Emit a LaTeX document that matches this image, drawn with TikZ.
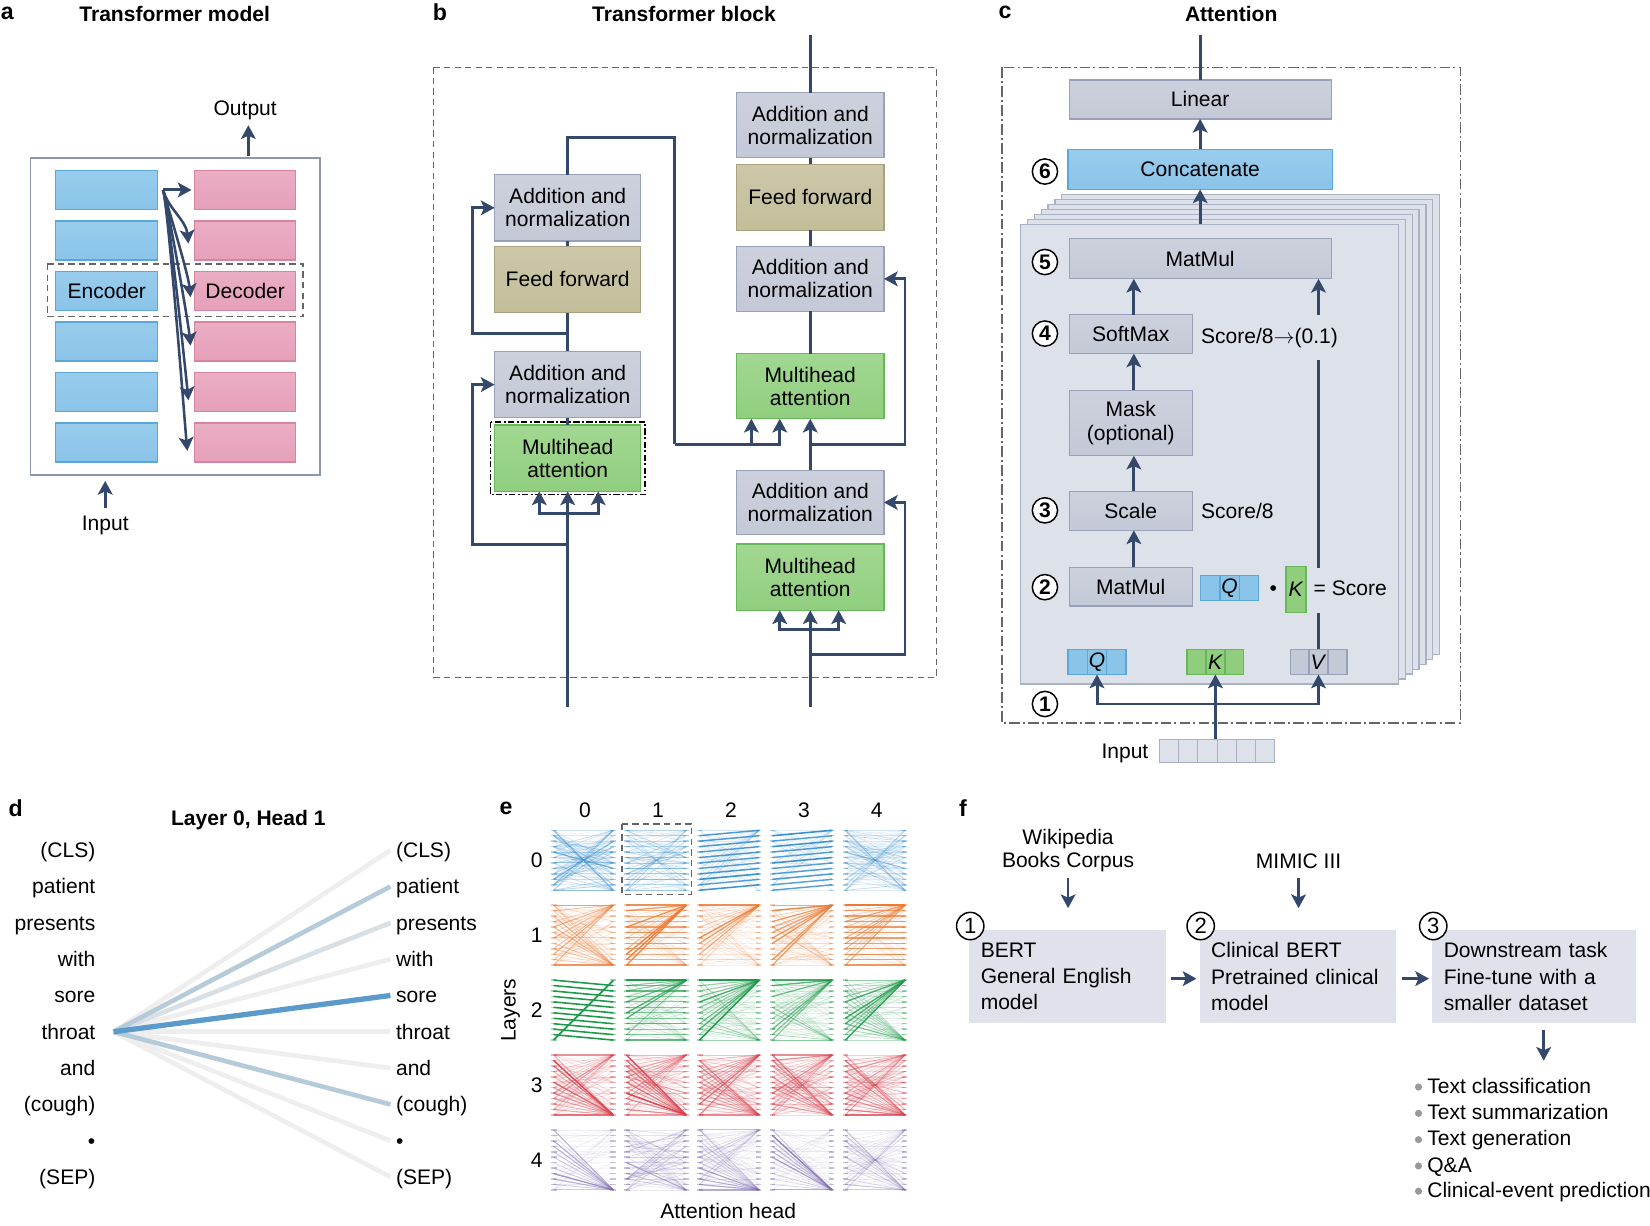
\documentclass[tikz,border=0pt]{standalone}
\usepackage{fontspec}
\setmainfont{Liberation Sans}
\usetikzlibrary{arrows.meta,calc}
\definecolor{navy}{HTML}{34486B}
\definecolor{gryF}{HTML}{C4C9D7}
\definecolor{gryT}{HTML}{CDD1DD}
\definecolor{gryB}{HTML}{98A1B8}
\definecolor{tanF}{HTML}{C3BE9A}
\definecolor{tanT}{HTML}{CCC8A8}
\definecolor{tanB}{HTML}{A8A27E}
\definecolor{grnF}{HTML}{90CE7E}
\definecolor{grnT}{HTML}{A2D892}
\definecolor{grnB}{HTML}{66B85A}
\definecolor{bluF}{HTML}{8BC4E9}
\definecolor{bluT}{HTML}{98CCEC}
\definecolor{bluB}{HTML}{5BA6DB}
\definecolor{pnkF}{HTML}{E6A0BA}
\definecolor{pnkT}{HTML}{EAAEC4}
\definecolor{pnkB}{HTML}{D9849F}
\definecolor{shtF}{HTML}{DDE1EA}
\definecolor{shtB}{HTML}{A9B1C5}
\definecolor{frmB}{HTML}{8C96AE}
\definecolor{dashC}{HTML}{666666}
\definecolor{fboxF}{HTML}{DFE2EA}
\definecolor{dfaint}{HTML}{EEEEEE}
\definecolor{dmid}{HTML}{B5CBD9}
\definecolor{dlite}{HTML}{D8E0E6}
\definecolor{dstrong}{HTML}{5B9BCB}
\definecolor{eL0}{HTML}{3A8FCF}
\definecolor{eL1}{HTML}{EC7A33}
\definecolor{eL2}{HTML}{1F9A4A}
\definecolor{eL3}{HTML}{D9434F}
\definecolor{eL4}{HTML}{7B67AE}
\newcommand\fs{\fontsize{10}{11}\selectfont}
\newcommand\bnode[7]{\node[#2, minimum width={(#5-#3)*0.5pt}, minimum height={(#6-#4)*0.5pt}] (#1) at ({(#3+#5)/2},{(#4+#6)/2}) {#7};}
\newcommand\qkv[8]{\bnode{#1}{bx, draw=#7, fill=#6}{#2}{#3}{#4}{#5}{\textit{#8}}
  \draw[#7, line width=0.6pt] ($(#1.south west)!1/3!(#1.south east)$) -- ($(#1.north west)!1/3!(#1.north east)$)
     ($(#1.south west)!2/3!(#1.south east)$) -- ($(#1.north west)!2/3!(#1.north east)$);}
% attention cell: col,row,color, mesh, top, bottom, diag, shift, anti
\newcommand\attcell[9]{%
 \begin{scope}[shift={({526+69.3*#1},{789+71.2*#2})}]
 \foreach \i in {0,...,11}{
   \draw[#3, opacity=0.4, line width=0.7pt] (-2,{\i*57/11}) -- (3,{\i*57/11}) (54,{\i*57/11}) -- (59,{\i*57/11});
   \foreach \j in {0,...,11}{
     \pgfmathsetmacro\op{min(1, 0.6*#4*rnd^4 + #5*(\j==0)*(0.15+0.75*rnd) + #6*(\j==11)*(0.15+0.75*rnd) + #7*(\j==\i+(#8)) + #9*(\j==11-\i)*(0.2+0.6*rnd))}
     \ifdim\op pt>0.05pt
       \draw[#3, opacity=\op, line width={0.25pt+0.5pt*\op}] (0,{\i*57/11}) -- (57,{\j*57/11});
     \fi
   }
 }
 \end{scope}}
\tikzset{
  bx/.style={line width=0.6pt, inner sep=0pt, outer sep=0pt, align=center, font=\fs},
  gbox/.style={bx, draw=gryB, fill=gryF, top color=gryT, bottom color=gryF},
  tbox/.style={bx, draw=tanB, fill=tanF, top color=tanT, bottom color=tanF},
  gnbox/.style={bx, draw=grnB, fill=grnF, top color=grnT, bottom color=grnF},
  bbox/.style={bx, draw=bluB, fill=bluF, top color=bluT, bottom color=bluF},
  pbox/.style={bx, draw=pnkB, fill=pnkF, top color=pnkT, bottom color=pnkF},
  ln/.style={draw=navy, line width=1.4pt},
  arr/.style={ln, -{Stealth[length=6.5pt,width=7pt,inset=1.5pt]}},
  ttl/.style={font=\fs\bfseries, inner sep=0pt},
  plet/.style={font=\fontsize{11}{12}\selectfont\bfseries, inner sep=0pt},
  txt/.style={font=\fs, inner sep=0pt, text height=7pt, text depth=0pt},
  num/.style={circle, draw=black, fill=white, line width=0.7pt, minimum size=12pt, inner sep=0pt, font=\fs\bfseries},
  fnum/.style={circle, draw=black, fill=white, line width=0.7pt, minimum size=13pt, inner sep=0pt, font=\fontsize{10.5}{11}\selectfont},
  fbox/.style={fill=fboxF, inner xsep=5.5pt, inner ysep=0pt, outer sep=0pt, align=left, text width=#1, font=\fontsize{10}{12.5}\selectfont},
  dsh/.style={dashC, line width=0.7pt, dash pattern=on 3pt off 2pt},
  dshdot/.style={dashC, line width=0.7pt, dash pattern=on 5pt off 1.5pt on 1pt off 1.5pt},
}
\begin{document}
\begin{tikzpicture}[x=0.5pt,y=-0.5pt]
\useasboundingbox (0,0) rectangle (1568,1165);
\fill[white] (0,0) rectangle (1568,1165);
\pgfmathsetseed{4242}
% ================= panel a =================
\node[plet] at (7,13) {a};
\node[ttl] at (166,13) {Transformer model};
\bnode{aframe}{draw=frmB, fill=white, line width=0.9pt, outer sep=0pt}{29}{150}{304}{451}{}
\foreach \k/\t in {1/162,2/210,3/258,4/306,5/354,6/402}{
  \bnode{enc\k}{bbox}{53}{\t}{150}{\t+37}{}
  \bnode{dec\k}{pbox}{185}{\t}{281}{\t+37}{}
}
\node[txt] at (enc3) {Encoder};
\node[txt] at (dec3) {Decoder};
\draw[dsh] (45,251) rectangle (288,301);
\coordinate (afan) at ($(enc1.east)+(5,0)$);
\draw[arr] (afan) -- ($(dec1.west)+(-3,0)$);
\foreach \k/\dx/\dy in {2/-6/3,3/-4/6,4/-4/4,5/-6/8,6/-7/8}{
  \draw[arr, line width=1.2pt] (afan) .. controls ($(afan)+(5,18)$) and ($(dec\k.west)+({\dx-2},{\dy-22})$) .. ($(dec\k.west)+(\dx,\dy)$);
}
\node[txt] (aout) at (233,103) {Output};
\coordinate (aoutb) at (236,148);
\coordinate (aoutt) at (236,119);
\draw[arr] (aoutb) -- (aoutt);
\node[txt] (ain) at (100,497) {Input};
\coordinate (ainb) at (100,483);
\coordinate (aint) at (100,457);
\draw[arr] (ainb) -- (aint);
% ================= panel b =================
\node[plet] at (418,12) {b};
\node[ttl] at (650,13) {Transformer block};
\draw[dsh] (412,64) rectangle (890,644);
\bnode{bL1}{gbox}{470}{166}{609}{229}{Addition and\\normalization}
\bnode{bL2}{tbox}{470}{234}{609}{297}{Feed forward}
\bnode{bL3}{gbox}{470}{334}{609}{397}{Addition and\\normalization}
\bnode{bL4}{gnbox}{470}{404}{609}{467}{Multihead\\attention}
\draw[black, line width=0.6pt, dash pattern=on 3pt off 1.2pt on 0.8pt off 1.2pt] (466,401) rectangle (613,470);
\bnode{bR1}{gbox}{700}{88}{840}{150}{Addition and\\normalization}
\bnode{bR2}{tbox}{700}{156}{840}{219}{Feed forward}
\bnode{bR3}{gbox}{700}{234}{840}{296}{Addition and\\normalization}
\bnode{bR4}{gnbox}{700}{336}{840}{398}{Multihead\\attention}
\bnode{bR5}{gbox}{700}{447}{840}{508}{Addition and\\normalization}
\bnode{bR6}{gnbox}{700}{517}{840}{580}{Multihead\\attention}
\draw[ln] (bL4.north) -- (bL3.south);
\draw[ln] (bL3.north) -- (bL2.south);
\draw[ln] (bL2.north) -- (bL1.south);
\coordinate (bLin) at (539.5,672);
\coordinate (bLbr) at (539.5,488);
\coordinate (bLres1) at (539.5,517);
\coordinate (bLres2) at (539.5,317);
\draw[arr] (bLin) -- (bL4.south);
\draw[arr] (bLbr) -| ($(bL4.south)+(-27,0)$);
\draw[arr] (bLbr) -| ($(bL4.south)+(29,0)$);
\draw[arr] (bLres1) -| ($(bL3.west)+(-21,0)$) -- (bL3.west);
\draw[arr] (bLres2) -| ($(bL1.west)+(-21,0)$) -- (bL1.west);
\coordinate (bTk) at (641,131);
\coordinate (bTj) at (641,422);
\draw[ln] (bL1.north) |- (bTk) -- (bTj);
\draw[arr] (bTj) -| ($(bR4.south)+(-56,0)$);
\draw[arr] (bTj) -| ($(bR4.south)+(-29,0)$);
\draw[arr] (bR5.north) -- (bR4.south);
\coordinate (bRres1) at ($(bR5.north)!0.5!(bR4.south)$);
\draw[arr] (bRres1) -| ($(bR3.east)+(20,0)$) -- (bR3.east);
\coordinate (bRin) at (770,672);
\coordinate (bRbr) at (770,598);
\coordinate (bRres2) at (770,622);
\draw[arr] (bRin) -- (bR6.south);
\draw[arr] (bRbr) -| ($(bR6.south)+(-29,0)$);
\draw[arr] (bRbr) -| ($(bR6.south)+(27,0)$);
\draw[arr] (bRres2) -| ($(bR5.east)+(20,0)$) -- (bR5.east);
\draw[ln] (bR4.north) -- (bR3.south);
\draw[ln] (bR3.north) -- (bR2.south);
\draw[ln] (bR2.north) -- (bR1.south);
\coordinate (bRout) at (770,33);
\draw[ln] (bR1.north) -- (bRout);
% ================= panel c =================
\node[plet] at (955,12) {c};
\node[ttl] at (1170,13) {Attention};
\draw[dshdot] (952,64) rectangle (1388,687);
\foreach \k in {6,5,...,1}{
  \draw[draw=shtB, fill=shtF, line width=0.6pt] ({970+6.5*\k},{213-4.7*\k}) rectangle ({1329+6.5*\k},{650-4.7*\k});
}
\bnode{sheet}{draw=shtB, fill=shtF, line width=0.6pt, outer sep=0pt}{970}{213}{1329}{650}{}
\bnode{linear}{gbox}{1016}{76}{1265}{113}{Linear}
\bnode{concat}{bbox}{1015}{142}{1266}{180}{Concatenate}
\bnode{mm5}{gbox}{1016}{227}{1265}{265}{MatMul}
\bnode{softmax}{gbox}{1016}{299}{1133}{336}{SoftMax}
\bnode{mask}{gbox}{1016}{371}{1133}{433}{Mask\\(optional)}
\bnode{scale}{gbox}{1016}{467}{1133}{504}{Scale}
\bnode{mm2}{gbox}{1016}{539}{1133}{576}{MatMul}
\coordinate (cout) at (1140.5,33);
\draw[ln] (linear.north) -- (cout);
\draw[arr] (concat.north) -- (linear.south);
\draw[arr] (concat.south |- sheet.north) -- (concat.south);
\draw[arr] ($(softmax.north)+(3,0)$) -- ($(softmax.north |- mm5.south)+(3,0)$);
\draw[arr] ($(mask.north)+(3,0)$) -- ($(softmax.south)+(3,0)$);
\draw[arr] ($(scale.north)+(3,0)$) -- ($(mask.south)+(3,0)$);
\draw[arr] ($(mm2.north)+(3,0)$) -- ($(scale.south)+(3,0)$);
\node[txt, anchor=west] at (1141,319) {Score/8$\rightarrow$(0.1)};
\node[txt, anchor=west] at (1141,486) {Score/8};
\qkv{qmid}{1141}{547}{1196}{571}{bluF}{bluB}{Q}
\node[txt] at (1210,559) {•};
\bnode{kmid}{bx, draw=grnB, fill=grnF}{1222}{538}{1241}{582}{\textit{K}}
\node[txt, anchor=west] at (1248,559) {= Score};
\qkv{qbot}{1015}{617}{1070}{641}{bluF}{bluB}{Q}
\qkv{kbot}{1128}{617}{1182}{641}{grnF}{grnB}{K}
\qkv{vbot}{1226}{617}{1280}{641}{gryF}{gryB}{V}
\coordinate (v1) at (1253,583);
\coordinate (v2) at (1253,540);
\coordinate (v3) at (1253,342);
\coordinate (v4) at (1253,299);
\draw[ln] (vbot.north) -- (v1);
\draw[ln] (v2) -- (v3);
\draw[arr] (v4) -- (v4 |- mm5.south);
\node[num] at (993,163) {6};
\node[num] at (993,249) {5};
\node[num] at (993,317) {4};
\node[num] at (993,485) {3};
\node[num] at (993,558) {2};
\node[num] at (993,669) {1};
\coordinate (cin) at (1155,703);
\coordinate (cjn) at (1155,669);
\draw[arr] (cin) -- (kbot.south);
\draw[arr] (cjn) -| (qbot.south);
\draw[arr] (cjn) -| (vbot.south);
\node[txt] at (1069,714) {Input};
\foreach \k in {0,...,5}{
  \draw[draw=shtB, fill=shtF, line width=0.5pt] ({1102+18.2*\k},703) rectangle ({1120.2+18.2*\k},725);
}
% ================= panel d =================
\node[plet] at (15,768) {d};
\node[ttl] at (236,779) {Layer 0, Head 1};
\foreach \k/\w in {0/{(CLS)},1/patient,2/presents,3/with,4/sore,5/throat,6/and,7/{(cough)},8/•,9/{(SEP)}}{
  \node[txt, anchor=east] (dL\k) at (91,{808+34.5*\k}) {\w};
  \node[txt, anchor=west] (dR\k) at (376,{808+34.5*\k}) {\w};
}
\coordinate (dsrc) at ($(dL5.east)+(17,0)$);
\foreach \k/\c in {0/dfaint,3/dfaint,5/dfaint,6/dfaint,8/dfaint,9/dfaint,2/dlite,1/dmid,7/dmid}{
  \draw[\c, line width=2.2pt] (dsrc) -- ($(dR\k.west)+(-5,0)$);
}
\draw[dstrong, line width=2.5pt] (dsrc) -- ($(dR4.west)+(-5,0)$);
% ================= panel e =================
\node[plet] at (481,768) {e};
\foreach \c in {0,...,4}{
  \node[txt] at ({556+69.3*\c},770) {\c};
  \node[txt] at (510,{817.5+71.2*\c}) {\c};
}
\node[txt, rotate=90] at (483,960) {Layers};
\node[txt] at (692,1151) {Attention head};
\attcell{0}{0}{eL0}{0.6}{0.15}{0.15}{0.15}{0}{0.45}
\attcell{1}{0}{eL0}{0.5}{0.1}{0.1}{0.35}{0}{0.45}
\attcell{2}{0}{eL0}{0.3}{0.3}{0}{0.85}{-1}{0}
\attcell{3}{0}{eL0}{0.3}{0.2}{0}{0.85}{-1}{0}
\attcell{4}{0}{eL0}{0.5}{0.1}{0.1}{0.15}{0}{0.45}
\attcell{0}{1}{eL1}{0.4}{0.7}{0.6}{0.1}{0}{0}
\attcell{1}{1}{eL1}{0.3}{0.9}{0.2}{0.6}{0}{0}
\attcell{2}{1}{eL1}{0.3}{0.8}{0.1}{0.1}{0}{0}
\attcell{3}{1}{eL1}{0.4}{0.9}{0.2}{0.1}{0}{0}
\attcell{4}{1}{eL1}{0.3}{0.9}{0.1}{0.7}{0}{0}
\attcell{0}{2}{eL2}{0.05}{0}{0}{1}{1}{0}
\draw[eL2, line width=0.8pt] (526,{789+71.2*2+57}) -- (583,{789+71.2*2});
\attcell{1}{2}{eL2}{0.3}{0.8}{0.3}{0.5}{0}{0}
\attcell{2}{2}{eL2}{0.3}{0.9}{0.4}{0.1}{0}{0}
\attcell{3}{2}{eL2}{0.3}{0.9}{0.5}{0.1}{0}{0}
\attcell{4}{2}{eL2}{0.3}{0.9}{0.5}{0.1}{0}{0}
\attcell{0}{3}{eL3}{0.4}{0.5}{0.9}{0.1}{0}{0}
\attcell{1}{3}{eL3}{0.4}{0.6}{0.8}{0.1}{0}{0.3}
\attcell{2}{3}{eL3}{0.5}{0.6}{0.7}{0.1}{0}{0}
\attcell{3}{3}{eL3}{0.5}{0.7}{0.6}{0.1}{0}{0.3}
\attcell{4}{3}{eL3}{0.4}{0.4}{0.7}{0.1}{0}{0.4}
\attcell{0}{4}{eL4}{0.2}{0.1}{0.8}{0.05}{0}{0}
\attcell{1}{4}{eL4}{0.5}{0.1}{0.3}{0.1}{0}{0}
\attcell{2}{4}{eL4}{0.3}{0.3}{0.7}{0.05}{0}{0}
\attcell{3}{4}{eL4}{0.2}{0.1}{0.9}{0.05}{0}{0}
\attcell{4}{4}{eL4}{0.2}{0.2}{0.4}{0.05}{0}{0.4}
\draw[dsh] (591,783) rectangle (657,850);
% ================= panel f =================
\node[plet] at (915,768) {f};
\node[font=\fs, align=center, inner sep=0pt] (wiki) at (1015,808) {Wikipedia\\Books Corpus};
\node[txt] (mimic) at (1234,818) {MIMIC III};
\bnode{f1}{fbox=82.5pt}{921}{884}{1108}{972}{BERT\\General English\\model}
\bnode{f2}{fbox=82.5pt}{1140}{884}{1327}{972}{Clinical BERT\\Pretrained clinical\\model}
\bnode{f3}{fbox=86pt}{1361}{884}{1555}{972}{Downstream task\\Fine-tune with a\\smaller dataset}
\node[fnum] at ($(f1.north west)+(1,-4)$) {1};
\node[fnum] at ($(f2.north west)+(1,-4)$) {2};
\node[fnum] at ($(f3.north west)+(1,-4)$) {3};
\coordinate (fw1) at (1015,834);
\coordinate (fw2) at (1015,863);
\coordinate (fm1) at (1234,834);
\coordinate (fm2) at (1234,863);
\draw[arr, line width=1.2pt] (fw1) -- (fw2);
\draw[arr, line width=1.2pt] (fm1) -- (fm2);
\draw[arr, line width=1.2pt] ($(f1.east)+(5,2)$) -- ($(f2.west)+(-3,2)$);
\draw[arr, line width=1.2pt] ($(f2.east)+(5,2)$) -- ($(f3.west)+(-3,2)$);
\coordinate (fd1) at (1467,979);
\coordinate (fd2) at (1467,1008);
\draw[arr, line width=1.2pt] (fd1) -- (fd2);
\foreach \t/\y in {Text classification/1032,Text summarization/1057,Text generation/1082,Q\&A/1107,Clinical-event prediction/1131}{
  \node[txt, anchor=west] at (1356,\y) {\t};
  \fill[gray!80] (1348,{\y+1}) circle (1.7pt);
}
\end{tikzpicture}
\end{document}
